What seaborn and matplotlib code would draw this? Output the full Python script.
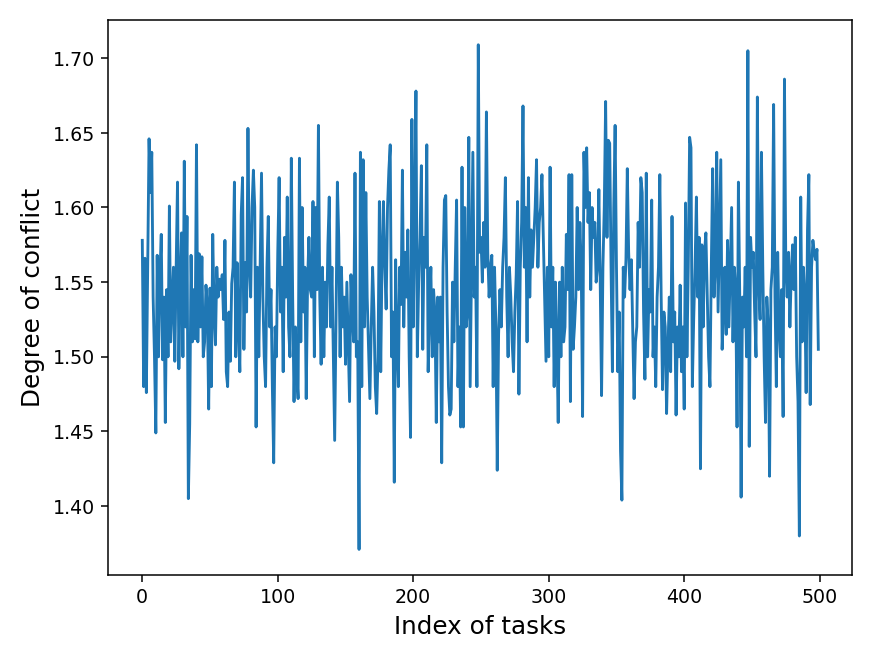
import matplotlib
matplotlib.use("Agg")
import matplotlib.pyplot as plt
import seaborn as sns
import pandas as pd

x_label = "Index of tasks"
y_label = "Degree of conflict"

degree = [
    1.578, 1.480, 1.566, 1.476, 1.560, 1.646, 1.610, 1.637, 1.540, 1.500, 1.449, 1.568, 1.500, 1.555, 1.582, 1.498, 1.540, 1.456, 1.545, 1.500, 1.601, 1.510, 1.535, 1.560,
    1.497, 1.560, 1.617, 1.492, 1.550, 1.583, 1.500, 1.631, 1.520, 1.594, 1.405, 1.455, 1.568, 1.510, 1.545, 1.512, 1.642, 1.510, 1.569, 1.520, 1.567, 1.500, 1.510, 1.548,
    1.534, 1.465, 1.546, 1.480, 1.582, 1.530, 1.508, 1.560, 1.540, 1.552, 1.545, 1.555, 1.525, 1.578, 1.490, 1.480, 1.530, 1.497, 1.549, 1.560, 1.617, 1.500, 1.563, 1.520,
    1.490, 1.595, 1.620, 1.505, 1.563, 1.530, 1.653, 1.560, 1.540, 1.600, 1.625, 1.600, 1.453, 1.560, 1.500, 1.560, 1.623, 1.540, 1.500, 1.480, 1.560, 1.594, 1.520, 1.545,
    1.480, 1.429, 1.520, 1.500, 1.570, 1.620, 1.530, 1.560, 1.490, 1.580, 1.540, 1.607, 1.520, 1.500, 1.633, 1.540, 1.470, 1.520, 1.490, 1.472, 1.633, 1.510, 1.600, 1.530,
    1.560, 1.472, 1.550, 1.580, 1.545, 1.540, 1.604, 1.500, 1.600, 1.545, 1.655, 1.540, 1.495, 1.560, 1.500, 1.550, 1.520, 1.575, 1.607, 1.520, 1.560, 1.500, 1.444, 1.525,
    1.617, 1.580, 1.500, 1.560, 1.520, 1.540, 1.495, 1.550, 1.510, 1.470, 1.555, 1.530, 1.510, 1.623, 1.500, 1.510, 1.371, 1.637, 1.480, 1.632, 1.520, 1.610, 1.540, 1.505,
    1.472, 1.520, 1.560, 1.530, 1.480, 1.462, 1.500, 1.604, 1.490, 1.570, 1.604, 1.560, 1.532, 1.600, 1.625, 1.642, 1.500, 1.530, 1.416, 1.565, 1.510, 1.480, 1.560, 1.535,
    1.625, 1.520, 1.570, 1.540, 1.585, 1.500, 1.446, 1.659, 1.520, 1.590, 1.678, 1.500, 1.550, 1.580, 1.628, 1.505, 1.580, 1.560, 1.642, 1.490, 1.530, 1.560, 1.500, 1.545,
    1.530, 1.456, 1.540, 1.510, 1.540, 1.429, 1.560, 1.605, 1.608, 1.530, 1.480, 1.461, 1.465, 1.550, 1.510, 1.560, 1.605, 1.480, 1.520, 1.453, 1.627, 1.453, 1.600, 1.520,
    1.530, 1.647, 1.480, 1.560, 1.637, 1.540, 1.560, 1.480, 1.709, 1.570, 1.580, 1.550, 1.590, 1.560, 1.664, 1.570, 1.540, 1.560, 1.568, 1.480, 1.560, 1.520, 1.424, 1.515,
    1.545, 1.520, 1.560, 1.580, 1.620, 1.540, 1.500, 1.560, 1.540, 1.510, 1.490, 1.530, 1.555, 1.604, 1.475, 1.560, 1.590, 1.668, 1.560, 1.600, 1.510, 1.620, 1.540, 1.585,
    1.560, 1.580, 1.600, 1.632, 1.560, 1.590, 1.600, 1.622, 1.580, 1.540, 1.497, 1.560, 1.500, 1.627, 1.520, 1.560, 1.480, 1.550, 1.510, 1.456, 1.550, 1.500, 1.560, 1.510,
    1.520, 1.582, 1.545, 1.622, 1.470, 1.622, 1.505, 1.520, 1.540, 1.600, 1.545, 1.590, 1.560, 1.460, 1.637, 1.600, 1.640, 1.590, 1.610, 1.545, 1.600, 1.580, 1.590, 1.550,
    1.560, 1.612, 1.550, 1.474, 1.560, 1.600, 1.671, 1.580, 1.645, 1.643, 1.560, 1.490, 1.600, 1.655, 1.560, 1.490, 1.530, 1.437, 1.404, 1.560, 1.540, 1.565, 1.626, 1.570,
    1.545, 1.565, 1.520, 1.472, 1.510, 1.520, 1.590, 1.560, 1.620, 1.610, 1.530, 1.485, 1.623, 1.500, 1.545, 1.530, 1.605, 1.500, 1.520, 1.480, 1.540, 1.560, 1.622, 1.540,
    1.478, 1.530, 1.520, 1.462, 1.505, 1.540, 1.490, 1.594, 1.510, 1.530, 1.461, 1.520, 1.500, 1.548, 1.490, 1.520, 1.465, 1.603, 1.500, 1.560, 1.647, 1.640, 1.480, 1.525,
    1.560, 1.607, 1.540, 1.580, 1.425, 1.575, 1.520, 1.570, 1.583, 1.540, 1.500, 1.480, 1.560, 1.626, 1.540, 1.560, 1.637, 1.530, 1.580, 1.632, 1.505, 1.530, 1.560, 1.515,
    1.578, 1.520, 1.560, 1.600, 1.510, 1.560, 1.545, 1.453, 1.617, 1.540, 1.406, 1.540, 1.520, 1.560, 1.500, 1.705, 1.440, 1.580, 1.560, 1.570, 1.530, 1.500, 1.674, 1.550,
    1.525, 1.637, 1.560, 1.500, 1.456, 1.540, 1.520, 1.420, 1.545, 1.560, 1.669, 1.540, 1.480, 1.570, 1.520, 1.500, 1.545, 1.460, 1.686, 1.560, 1.540, 1.570, 1.520, 1.555,
    1.575, 1.545, 1.580, 1.500, 1.470, 1.380, 1.607, 1.510, 1.560, 1.540, 1.476, 1.585, 1.622, 1.468, 1.560, 1.578, 1.570, 1.565, 1.572, 1.505,
]
task_index = list(range(len(degree)))

x_ticks = [0, 100, 200, 300, 400, 500]
y_ticks = [1.40, 1.45, 1.50, 1.55, 1.60, 1.65, 1.70]

df = pd.DataFrame({"task": task_index, "degree": degree})

fig, ax = plt.subplots(figsize=(6.4, 4.8), dpi=136.7)
sns.lineplot(data=df, x="task", y="degree", ax=ax, color="#1f77b4", linewidth=1.5)

ax.set_xticks(x_ticks)
ax.set_yticks(y_ticks)
ax.set_yticklabels([f"{v:.2f}" for v in y_ticks])
ax.tick_params(labelsize=10)
ax.set_xlabel(x_label, fontsize=13)
ax.set_ylabel(y_label, fontsize=13)
for s in ax.spines.values():
    s.set_visible(True)
    s.set_color("black")
    s.set_linewidth(0.8)

fig.subplots_adjust(left=0.124, right=0.974, top=0.97, bottom=0.124)
fig.savefig("out.png", dpi=136.7)
